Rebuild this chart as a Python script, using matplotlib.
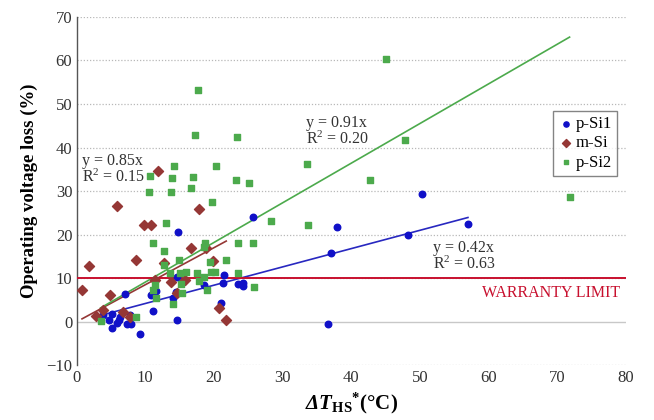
import numpy as np
import matplotlib
matplotlib.use("Agg")
import matplotlib.pyplot as plt

# p-Si1 modules (blue circles)
psi1_x = [3.9, 4.8, 5.1, 5.2, 5.9, 6.2, 6.4, 7.1, 7.3, 7.8, 7.9, 9.2, 10.9, 11.1, 11.6,
          14.0, 14.5, 14.6, 14.7, 14.8, 18.5, 21.0, 21.4, 21.5, 23.5, 24.3, 24.3, 25.7,
          36.6, 37.1, 38.0, 48.3, 50.3, 57.0]
psi1_y = [1.5, 0.4, 1.8, -1.4, -0.3, 0.5, 1.0, 6.5, -0.4, 1.6, -0.5, -2.8, 6.1, 2.5, 7.1,
          5.4, 6.9, 10.3, 0.4, 20.7, 8.4, 4.4, 9.0, 10.7, 8.7, 8.8, 8.2, 24.1,
          -0.4, 15.7, 21.7, 19.9, 29.3, 22.5]

# m-Si modules (red diamonds)
msi_x = [0.8, 1.8, 2.9, 3.8, 4.9, 5.9, 6.8, 7.8, 8.7, 9.8, 10.9, 11.4, 11.9, 12.8,
         13.8, 14.7, 15.8, 16.7, 17.8, 18.9, 19.9, 20.8, 21.8]
msi_y = [7.4, 12.8, 1.3, 2.6, 6.1, 26.5, 2.3, 1.1, 14.1, 22.2, 22.2, 9.7, 34.7, 13.6,
         9.1, 6.7, 9.5, 16.9, 25.9, 16.9, 14.0, 3.2, 0.4]

# p-Si2 modules (green squares)
psi2_x = [3.5, 8.7, 10.5, 10.7, 11.2, 11.2, 11.5, 11.6, 12.7, 12.7, 13.1, 13.6, 13.7,
          13.9, 14.0, 14.2, 14.9, 15.0, 15.2, 15.3, 16.0, 16.6, 16.9, 17.2, 17.6, 17.7,
          17.8, 18.6, 18.7, 18.6, 19.0, 19.5, 19.6, 19.8, 20.1, 20.3, 21.7, 23.2, 23.4,
          23.5, 23.5, 25.1, 25.7, 25.8, 28.3, 33.5, 33.7, 42.8, 45.1, 47.8, 71.8]
psi2_y = [0.1, 1.0, 29.7, 33.4, 18.1, 7.4, 8.4, 5.4, 16.2, 13.0, 22.7, 11.1, 29.9,
          32.9, 4.2, 35.7, 14.3, 11.2, 8.6, 6.6, 11.4, 30.8, 33.2, 42.9, 11.3, 53.3,
          9.3, 10.3, 18.2, 17.2, 7.3, 13.7, 11.5, 27.4, 11.5, 35.8, 14.3, 32.6, 42.4,
          18.2, 11.3, 31.8, 18.2, 7.9, 23.2, 36.2, 22.3, 32.6, 60.4, 41.8, 28.7]

# trendline slopes (fit through origin) and R^2
slopes = {"p-Si1": 0.42, "m-Si": 0.85, "p-Si2": 0.91}
r2 = {"p-Si1": 0.63, "m-Si": 0.15, "p-Si2": 0.20}
warranty = 10

serif = ["Liberation Serif", "DejaVu Serif"]
plt.rcParams["font.family"] = serif
plt.rcParams["mathtext.fontset"] = "custom"
plt.rcParams["mathtext.rm"] = "Liberation Serif"
plt.rcParams["mathtext.it"] = "Liberation Serif:italic"
plt.rcParams["mathtext.bf"] = "Liberation Serif:bold"
plt.rcParams["mathtext.bfit"] = "Liberation Serif:bold:italic"

fig = plt.figure(figsize=(6.54, 4.2), dpi=100)
ax = fig.add_axes([0.117, 0.130, 0.840, 0.830])

blue = "#1010c8"
red = "#953735"
green = "#4caa4c"

ax.scatter(psi1_x, psi1_y, s=22, marker="o", color=blue, zorder=4, label="p-Si1")
ax.scatter(msi_x, msi_y, s=26, marker="D", color=red, zorder=4, label="m-Si")
ax.scatter(psi2_x, psi2_y, s=14, marker="s", color=green, zorder=4, label="p-Si2")

for xs, name, c in [(psi1_x, "p-Si1", "#2828c0"), (msi_x, "m-Si", red), (psi2_x, "p-Si2", green)]:
    xx = np.array([min(xs), max(xs)])
    ax.plot(xx, slopes[name] * xx, color=c, lw=1.2, zorder=3)

ax.axhline(warranty, color="#c8102e", lw=1.4, zorder=3)
ax.text(79.1, 6.6, "WARRANTY LIMIT", color="#c8102e", fontsize=11.5, ha="right", va="center")

# equation labels for each trendline
eq_pos = {"m-Si": (0.8, 35.0), "p-Si2": (33.4, 43.7), "p-Si1": (51.9, 15.0)}
for name, (tx, ty) in eq_pos.items():
    ax.text(tx, ty, "y = %.2fx\nR$^2$ = %.2f" % (slopes[name], r2[name]), fontsize=11.5,
            va="center", ha="left", linespacing=1.0, color="#333333")

ax.set_xlim(0, 80)
ax.set_ylim(-10, 70)
ax.set_xticks(np.arange(0, 81, 10))
ax.set_yticks(np.arange(-10, 71, 10))
ax.tick_params(length=0, labelsize=12, labelcolor="#333333", pad=3)
for y in range(-10, 71, 10):
    if y == 0:
        ax.axhline(y, color="#c8c8c8", lw=1.0, zorder=1)
    else:
        ax.axhline(y, color="#b8b8b8", lw=0.9, ls=(0, (1, 1.5)), zorder=1)

for side in ["top", "right", "bottom"]:
    ax.spines[side].set_visible(False)
ax.spines["left"].set_color("#555555")
ax.spines["left"].set_linewidth(1.0)

ax.set_ylabel("Operating voltage loss (%)", fontsize=13.5, fontweight="bold", labelpad=6)
ax.set_xlabel(r"$\mathbfit{\Delta T}_{\mathbf{HS}}{}^{\mathbf{*}}$(°C)", fontsize=15,
              fontweight="bold", labelpad=4)

leg = ax.legend(loc="upper right", bbox_to_anchor=(0.984, 0.730), fontsize=12,
                frameon=True, fancybox=False, handletextpad=0.1, borderpad=0.3,
                labelspacing=0.2, handlelength=1.0, markerscale=0.8, borderaxespad=0)
leg.get_frame().set_edgecolor("#666666")
leg.get_frame().set_linewidth(1.0)

fig.savefig("out.png", dpi=100)
